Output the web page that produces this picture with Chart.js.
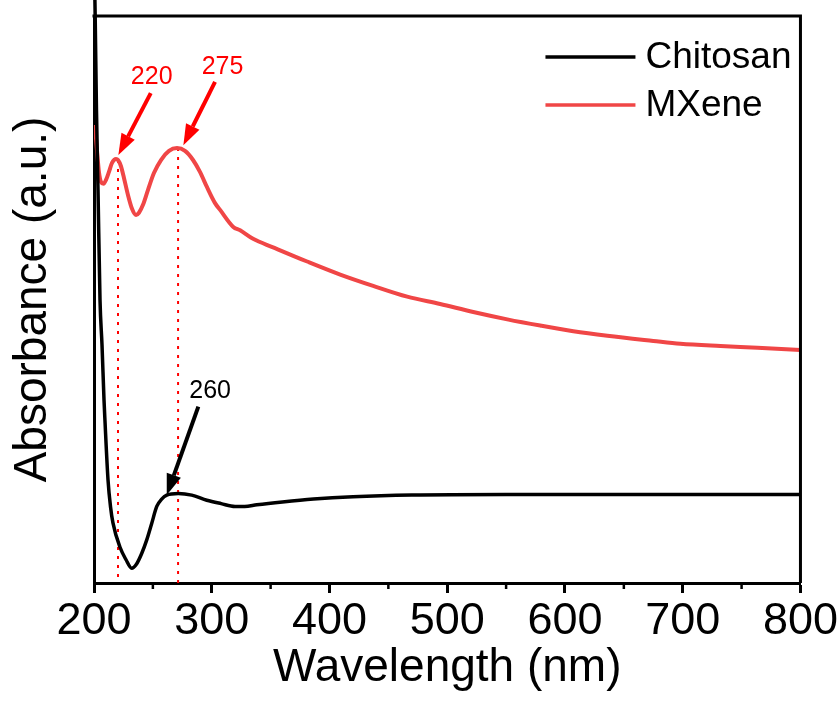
<!DOCTYPE html>
<html>
<head>
<meta charset="utf-8">
<script src="https://cdn.jsdelivr.net/npm/chart.js@4"></script>
<style>
  html, body { margin: 0; padding: 0; background: #fff; }
  #wrap { width: 840px; height: 704px; }
</style>
</head>
<body>
<div id="wrap"><canvas id="uv" width="840" height="704"></canvas></div>
<script>
// wavelength (nm) / absorbance (a.u., arbitrary 0-100 scale)
const chitosanWl = [200.5, 201, 202.1, 203.4, 205.1, 206.8, 208.5, 209.3, 211.9, 214, 216.1, 222.1, 227.2, 232, 236, 240.5, 244.8, 249, 253.3, 257.5, 261.8, 271.6, 283, 295.8, 308, 319.8, 328, 338.3, 360, 386.4, 420, 470, 550, 650, 800];
const chitosanAbs = [106, 100, 83.4, 69.3, 49.9, 42, 32.3, 28.7, 18.2, 13.5, 10.6, 6.3, 4.1, 2.6, 3.3, 5.2, 7.6, 10.5, 13.5, 14.8, 15.5, 15.8, 15.5, 14.6, 14.0, 13.5, 13.5, 13.8, 14.3, 14.8, 15.2, 15.5, 15.6, 15.6, 15.6];

const mxeneWl = [200.8, 202.5, 204.2, 206, 208.1, 210.2, 212.7, 215.3, 218.7, 220.4, 222.9, 225.5, 228.9, 232.3, 235.7, 238.2, 241.6, 245.8, 250.9, 256.9, 263.7, 270.5, 277.3, 284.1, 290, 296, 302.8, 307.1, 318.3, 324.1, 335.1, 352.1, 381, 409.1, 437.1, 466, 494, 522.1, 551, 579, 607.1, 636, 675, 698, 732, 763.5, 800];
const mxeneAbs = [80.8, 76.4, 72.5, 70.7, 70.4, 71.1, 72.5, 74.1, 74.8, 74.6, 73.5, 71.4, 68.4, 66.0, 64.9, 65.3, 66.7, 69.3, 72.3, 74.6, 76.2, 76.7, 76.2, 74.6, 72.5, 69.8, 67.0, 65.8, 62.8, 62.2, 60.7, 59.2, 56.7, 54.4, 52.4, 50.5, 49.2, 47.8, 46.5, 45.4, 44.4, 43.6, 42.7, 42.2, 41.8, 41.5, 41.1];

const xMajor = [200, 300, 400, 500, 600, 700, 800];
const xMinor = [250, 350, 450, 550, 650, 750];

// dotted markers under the MXene peaks
const peakWl = [220.4, 271.4];
const peakTop = [74.6, 76.7];

// arrow labels: label, color, tail, tip, text position
const arrowLabels = ['220', '275', '260'];
const arrowColors = ['#ff0000', '#ff0000', '#000000'];
const arrowTail = [[248.2, 86.4], [302.8, 88.4], [288.6, 31.1]];
const arrowTip = [[220.7, 75.5], [275.9, 77.2], [261.8, 15.5]];
const arrowText = [[249.0, 89.2], [309.2, 90.9], [298.6, 33.9]];

const seriesNames = ['Chitosan', 'MXene'];
const seriesColors = ['#000000', '#f04646'];

const FONT = "Arial, 'Liberation Sans', sans-serif";

const toPoints = (xs, ys) => xs.map((x, i) => ({ x: x, y: ys[i] }));

const peakSets = peakWl.map((wl, i) => ({
  data: [{ x: wl, y: peakTop[i] }, { x: wl, y: 0 }],
  borderColor: '#ff0000',
  borderWidth: 2,
  borderDash: [3, 6],
  pointRadius: 0,
  tension: 0
}));

const framePlugin = {
  id: 'frame',
  afterDraw(chart) {
    const { ctx, scales: { x, y } } = chart;
    const l = x.getPixelForValue(200), r = x.getPixelForValue(800);
    const t = y.getPixelForValue(100), b = y.getPixelForValue(0);
    ctx.save();
    ctx.strokeStyle = '#000';
    ctx.lineWidth = 3;
    ctx.beginPath();
    ctx.moveTo(l - 1.5, t);
    ctx.lineTo(r, t);
    ctx.lineTo(r, b);
    ctx.stroke();
    // minor ticks
    ctx.lineWidth = 2.5;
    xMinor.forEach(v => {
      const px = x.getPixelForValue(v);
      ctx.beginPath();
      ctx.moveTo(px, b);
      ctx.lineTo(px, b + 6);
      ctx.stroke();
    });

    // arrows and labels
    arrowLabels.forEach((lab, i) => {
      const x1 = x.getPixelForValue(arrowTail[i][0]), y1 = y.getPixelForValue(arrowTail[i][1]);
      const x2 = x.getPixelForValue(arrowTip[i][0]), y2 = y.getPixelForValue(arrowTip[i][1]);
      const ang = Math.atan2(y2 - y1, x2 - x1);
      const headLen = 21, headHalf = 7.5;
      const bx = x2 - headLen * Math.cos(ang), by = y2 - headLen * Math.sin(ang);
      ctx.strokeStyle = arrowColors[i];
      ctx.fillStyle = arrowColors[i];
      ctx.lineWidth = 4;
      ctx.beginPath();
      ctx.moveTo(x1, y1);
      ctx.lineTo(bx, by);
      ctx.stroke();
      ctx.beginPath();
      ctx.moveTo(x2, y2);
      ctx.lineTo(bx + headHalf * Math.sin(ang), by - headHalf * Math.cos(ang));
      ctx.lineTo(bx - headHalf * Math.sin(ang), by + headHalf * Math.cos(ang));
      ctx.closePath();
      ctx.fill();
      ctx.font = '25px ' + FONT;
      ctx.textAlign = 'center';
      ctx.textBaseline = 'middle';
      ctx.fillText(lab, x.getPixelForValue(arrowText[i][0]), y.getPixelForValue(arrowText[i][1]));
    });

    // legend, top right inside the frame
    seriesNames.forEach((name, i) => {
      const ly = t + 41 + i * 48;
      ctx.strokeStyle = seriesColors[i];
      ctx.lineWidth = 3.5;
      ctx.beginPath();
      ctx.moveTo(r - 255, ly);
      ctx.lineTo(r - 165, ly);
      ctx.stroke();
      ctx.fillStyle = '#000';
      ctx.font = '37px ' + FONT;
      ctx.textAlign = 'left';
      ctx.textBaseline = 'middle';
      ctx.fillText(name, r - 155, ly + 1);
    });
    ctx.restore();
  }
};

new Chart(document.getElementById('uv'), {
  type: 'line',
  data: {
    datasets: [
      {
        label: seriesNames[0],
        data: toPoints(chitosanWl, chitosanAbs),
        borderColor: seriesColors[0],
        borderWidth: 3.5,
        pointRadius: 0,
        cubicInterpolationMode: 'monotone',
        clip: false
      },
      {
        label: seriesNames[1],
        data: toPoints(mxeneWl, mxeneAbs),
        borderColor: seriesColors[1],
        borderWidth: 4,
        pointRadius: 0,
        cubicInterpolationMode: 'monotone'
      },
      ...peakSets
    ]
  },
  options: {
    responsive: false,
    animation: false,
    devicePixelRatio: 1,
    layout: { padding: { top: 16, right: 2, left: 0, bottom: 0 } },
    plugins: { legend: { display: false }, tooltip: { enabled: false } },
    scales: {
      x: {
        type: 'linear',
        min: 200,
        max: 800,
        afterBuildTicks: s => { s.ticks = xMajor.map(v => ({ value: v })); },
        ticks: { font: { family: FONT, size: 45 }, color: '#000', padding: 2, maxRotation: 0, autoSkip: false },
        grid: { display: true, drawOnChartArea: false, drawTicks: true, tickLength: 10, tickWidth: 3, tickColor: '#000' },
        border: { display: true, color: '#000', width: 3 },
        title: { display: true, text: 'Wavelength (nm)', font: { family: FONT, size: 46 }, color: '#000', padding: { top: 0, bottom: 8 } },
        afterFit: s => { s.height = 121; }
      },
      y: {
        min: 0,
        max: 100,
        ticks: { display: false },
        grid: { display: false, drawTicks: false },
        border: { display: true, color: '#000', width: 3 },
        title: { display: true, text: 'Absorbance (a.u.)', font: { family: FONT, size: 46 }, color: '#000', padding: { top: 6, bottom: 0 } },
        afterFit: s => { s.width = 94; }
      }
    }
  },
  plugins: [framePlugin]
});
</script>
</body>
</html>
